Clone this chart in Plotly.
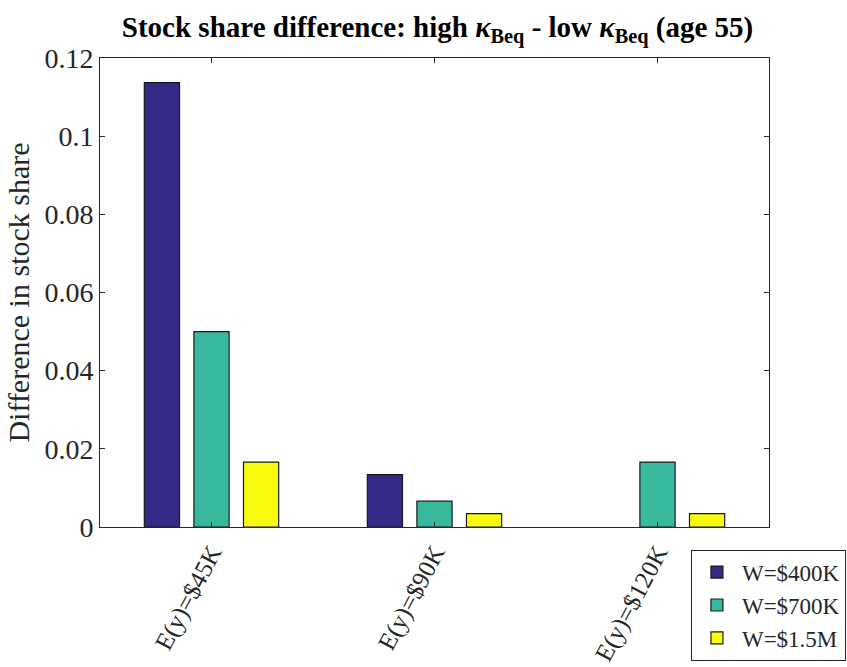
import plotly.graph_objects as go

categories = ["E(y)=$45K", "E(y)=$90K", "E(y)=$120K"]
series_names = ["W=$400K", "W=$700K", "W=$1.5M"]
w400 = [0.1137, 0.0134, 0.0]
w700 = [0.0500, 0.0066, 0.0166]
w1500 = [0.0166, 0.0034, 0.0034]
colors = ["#352A87", "#38B89D", "#F9FB0E"]
ytick_vals = [0, 0.02, 0.04, 0.06, 0.08, 0.10, 0.12]
ytick_text = ["0", "0.02", "0.04", "0.06", "0.08", "0.1", "0.12"]

FONT = "Liberation Serif"
AX = "#262626"

fig = go.Figure()
for name, vals, c in zip(series_names, [w400, w700, w1500], colors):
    fig.add_trace(go.Bar(
        x=categories, y=vals, name=name,
        marker=dict(color=c, line=dict(color="#1a1a1a",
                                       width=[1.2 if v != 0 else 0 for v in vals])),
    ))

fig.update_layout(
    width=847, height=667,
    barmode="group", bargap=0.333, bargroupgap=0.29,
    paper_bgcolor="white", plot_bgcolor="white",
    margin=dict(l=100, r=78, t=58, b=140, autoexpand=False),
    font=dict(family=FONT, size=24, color=AX),
    title=dict(
        text="<b>Stock share difference: high <i>κ</i><sub>Beq</sub> - low <i>κ</i><sub>Beq</sub> (age 55)</b>",
        x=0.5045, xref="paper", xanchor="center", y=0.975, yanchor="top",
        font=dict(family=FONT, size=29, color="black"),
    ),
    xaxis=dict(
        type="category", range=[-0.5, 2.5], automargin=False,
        showline=True, linecolor=AX, linewidth=1, mirror="ticks",
        ticks="inside", ticklen=5, tickcolor=AX,
        tickangle=-62, tickfont=dict(family=FONT, size=25, color=AX),
        showgrid=False, zeroline=False,
    ),
    yaxis=dict(
        range=[0, 0.12], automargin=False,
        tickvals=ytick_vals, ticktext=ytick_text,
        showline=True, linecolor=AX, linewidth=1, mirror="ticks",
        ticks="inside", ticklen=5, tickcolor=AX,
        tickfont=dict(family=FONT, size=28, color=AX),
        showgrid=False, zeroline=False,
        title=dict(text="Difference in stock share", font=dict(family=FONT, size=30, color=AX), standoff=5),
    ),
    legend=dict(
        x=1.115, xanchor="right", y=-0.285, yanchor="bottom",
        bgcolor="white", bordercolor=AX, borderwidth=1,
        font=dict(family=FONT, size=23, color=AX),
        tracegroupgap=0, itemwidth=40,
    ),
    showlegend=True,
)

fig.write_html("out.html")
